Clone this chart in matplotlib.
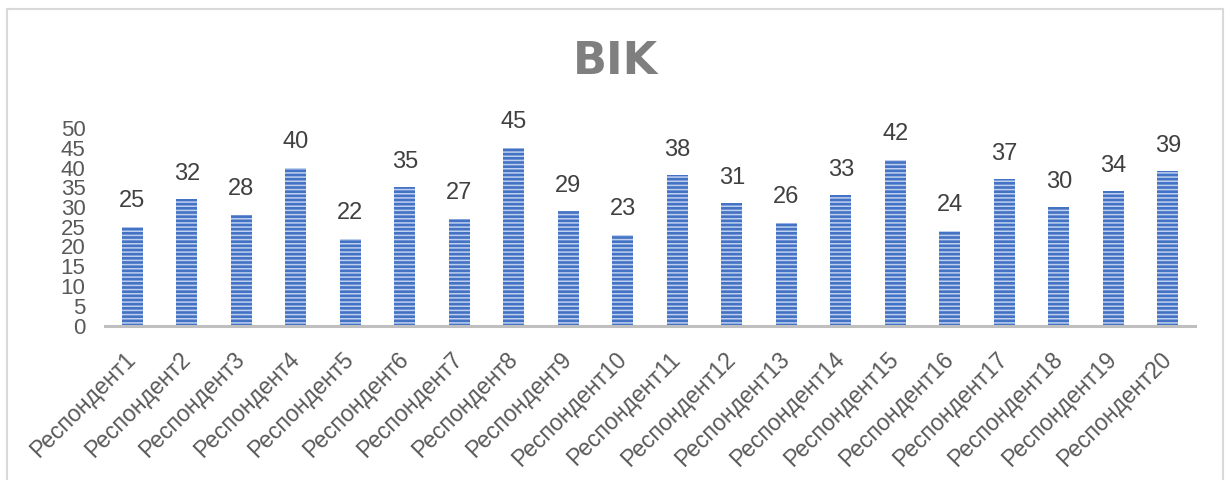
import matplotlib
matplotlib.use("Agg")
import matplotlib.pyplot as plt
from matplotlib.lines import Line2D

categories = [f"Респондент{i}" for i in range(1, 21)]
values = [25, 32, 28, 40, 22, 35, 27, 45, 29, 23, 38, 31, 26, 33, 42, 24, 37, 30, 34, 39]
yticks = [0, 5, 10, 15, 20, 25, 30, 35, 40, 45, 50]
title = "BIK"

plt.rcParams['font.family'] = ['Liberation Sans', 'DejaVu Sans']
plt.rcParams['hatch.linewidth'] = 1.1

W, H = 1232, 480
fig = plt.figure(figsize=(W / 100, H / 100), dpi=100)
ax = fig.add_axes([105 / W, 1 - 325.5 / H, (1195 - 105) / W, (325.5 - 128) / H])

x = list(range(len(values)))
bars = ax.bar(x, values, width=0.38, color='#4472C4', edgecolor='#BFD0EE',
              linewidth=0, hatch='----', zorder=2)

for xi, v in zip(x, values):
    ax.annotate(str(v), (xi, v), xytext=(0, 14), textcoords='offset points',
                ha='center', va='baseline', fontsize=17, color='#404040')

ax.set_xlim(-0.5, len(values) - 0.5)
ax.set_ylim(0, 50)
ax.set_yticks(yticks)
ax.set_yticklabels([str(t) for t in yticks], fontsize=16, color='#595959')
ax.set_xticks(x)
ax.set_xticklabels(categories, rotation=45, ha='right', va='center',
                   rotation_mode='anchor', fontsize=16.5, color='#595959')
ax.tick_params(axis='y', length=0, pad=14)
ax.tick_params(axis='x', length=0, pad=22)

for s in ['left', 'right', 'top']:
    ax.spines[s].set_visible(False)
ax.spines['bottom'].set_color('#BFBFBF')
ax.spines['bottom'].set_linewidth(2.2)
ax.spines['bottom'].set_zorder(3)

fig.text(615 / W, 1 - 62 / H, title, ha='center', va='center', fontsize=32,
         fontweight='bold', color='#7F7F7F', family='DejaVu Sans')

# chart border
bc = '#D9D9D9'
fig.add_artist(Line2D([7 / W, 7 / W], [0, 1 - 9 / H], color=bc, lw=1.5, transform=fig.transFigure))
fig.add_artist(Line2D([1223 / W, 1223 / W], [0, 1 - 9 / H], color=bc, lw=1.5, transform=fig.transFigure))
fig.add_artist(Line2D([7 / W, 1223 / W], [1 - 9 / H, 1 - 9 / H], color=bc, lw=1.5, transform=fig.transFigure))

fig.savefig("out.png", dpi=100)
